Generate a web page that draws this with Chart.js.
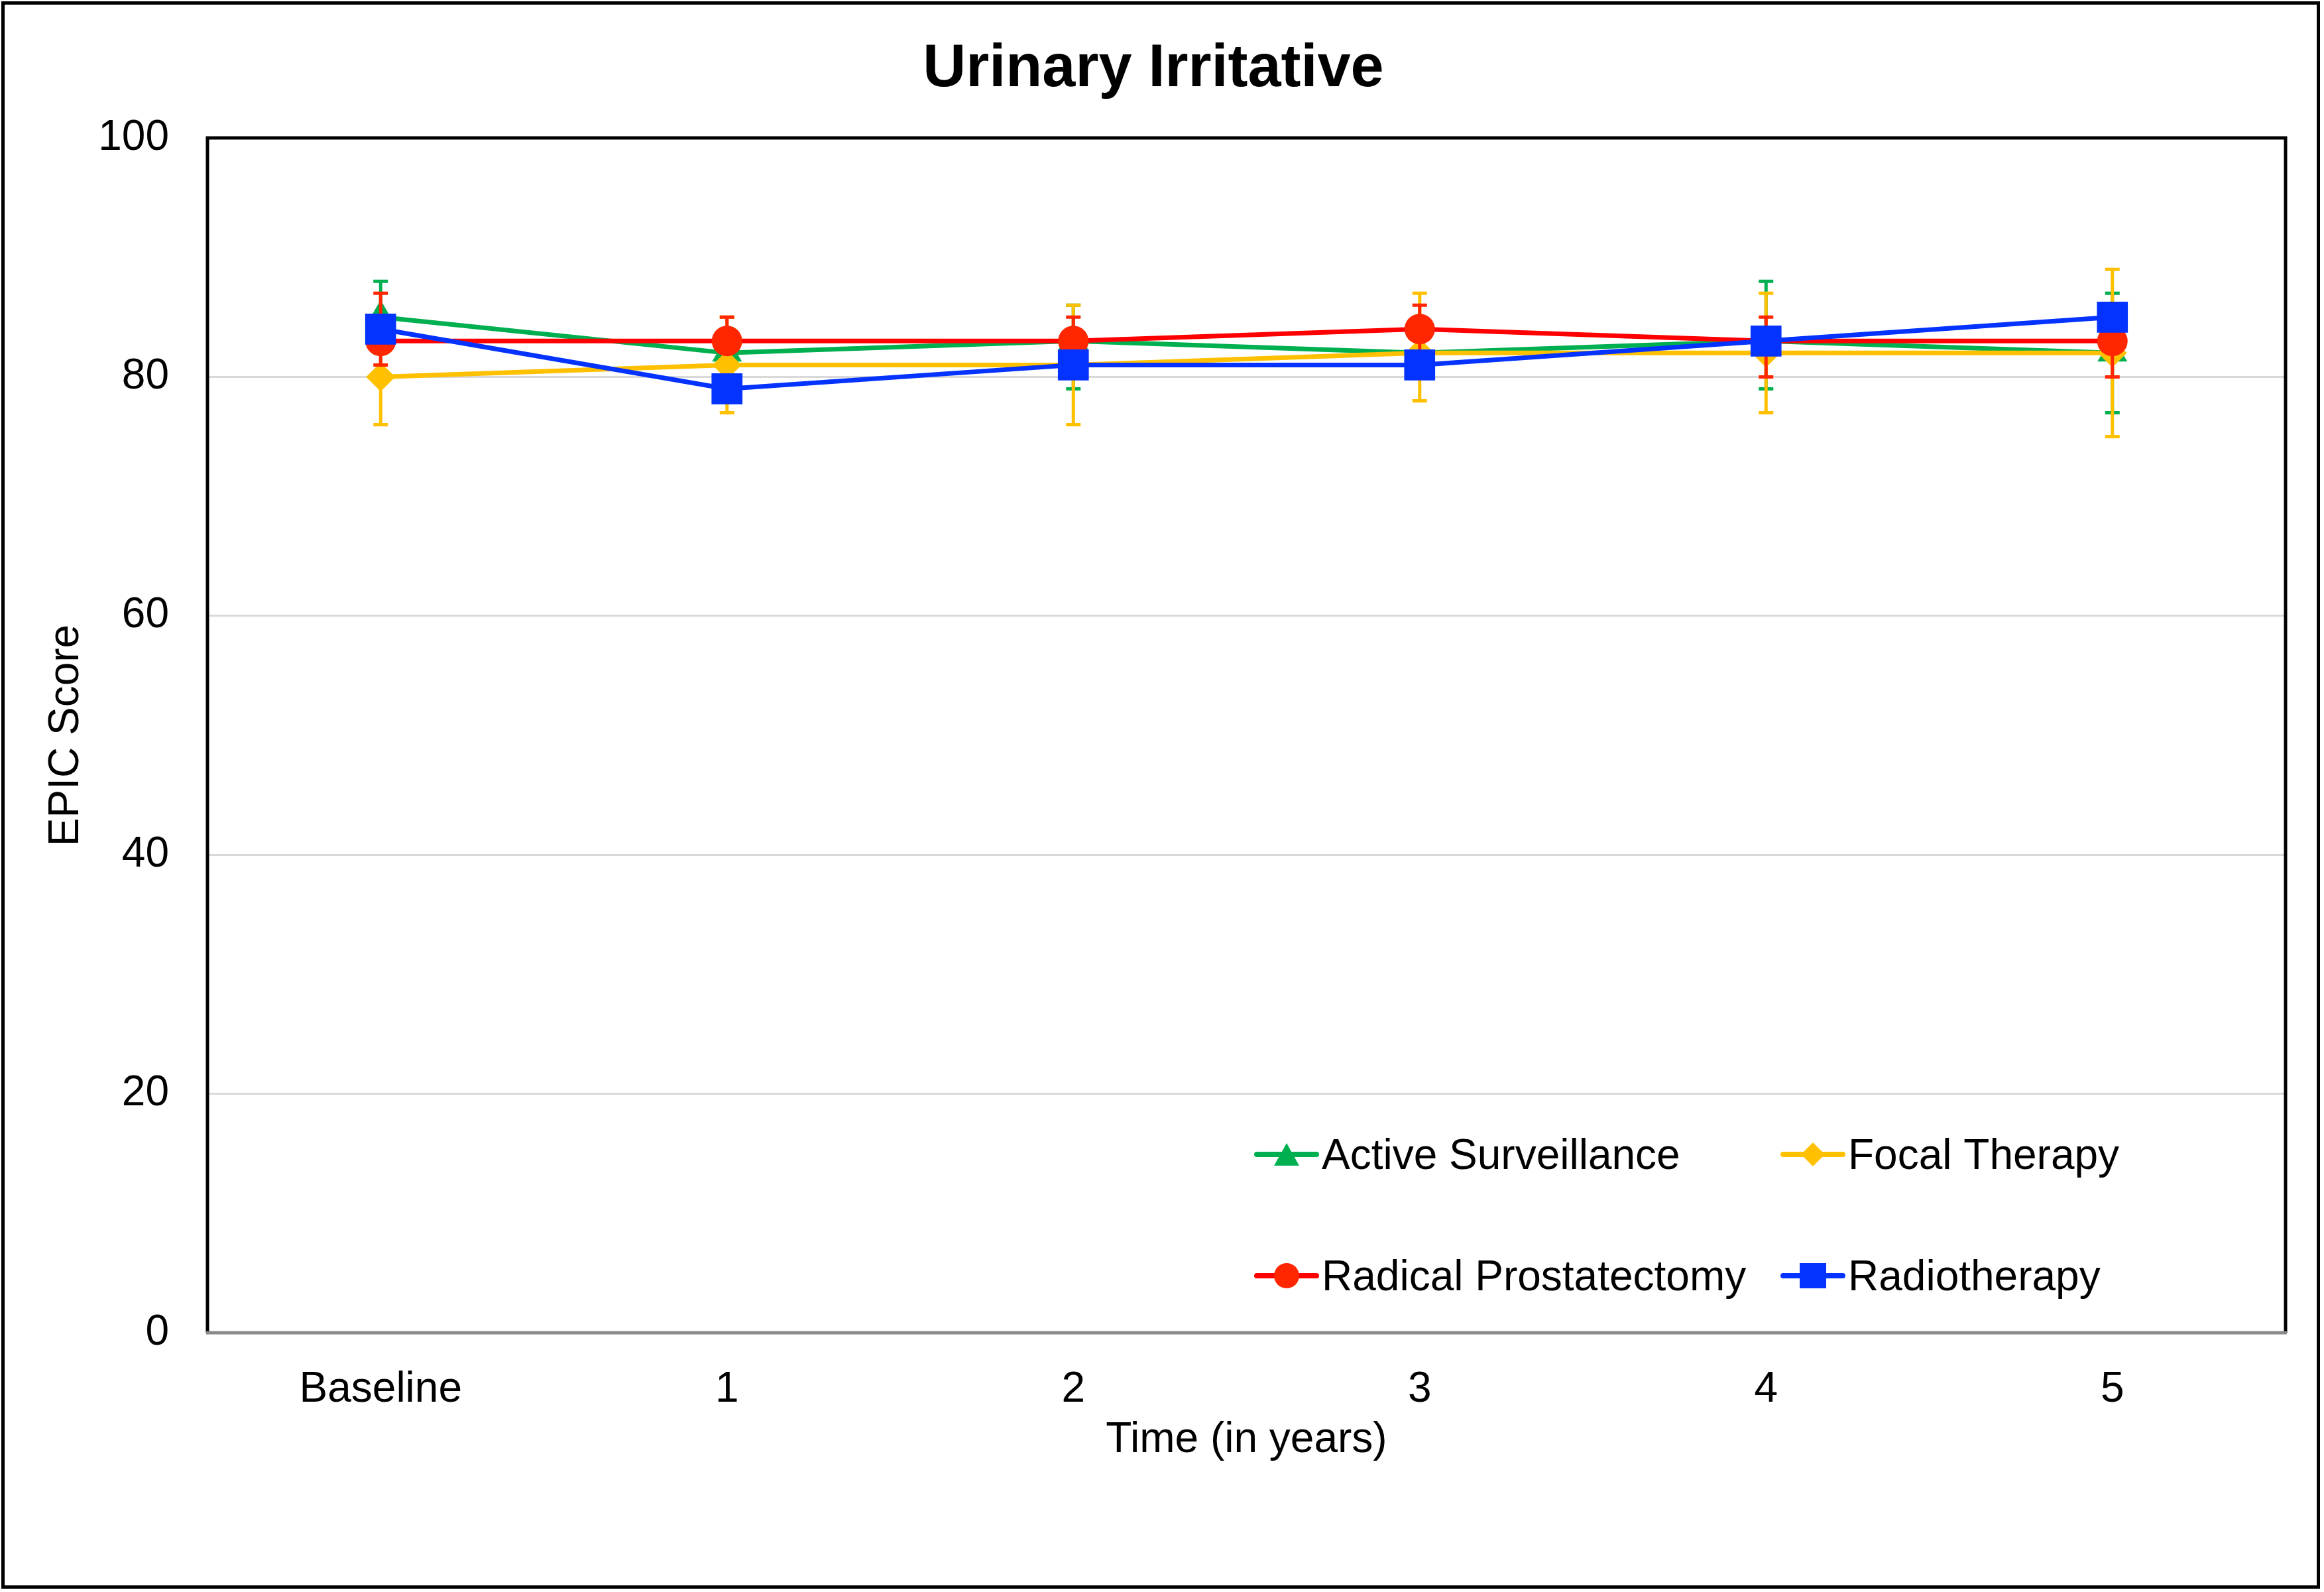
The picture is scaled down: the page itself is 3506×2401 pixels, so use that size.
<!DOCTYPE html>
<html>
<head>
<meta charset="utf-8">
<script src="https://cdn.jsdelivr.net/npm/chart.js@4.4.1/dist/chart.umd.min.js"></script>
<style>
  body { margin: 0; background: #ffffff; }
  canvas { display: block; }
</style>
</head>
<body>
<canvas id="epicChart" width="3506" height="2401" style="width:3506px;height:2401px"></canvas>
<script>
// values
var timeLabels = ['Baseline', '1', '2', '3', '4', '5'];
var yTicks = [0, 20, 40, 60, 80, 100];

var activeSurv = [85, 82, 83, 82, 83, 82];
var activeLow  = [82, 80, 79, 80, 79, 77];
var activeHigh = [88, 84, 86, 84, 88, 87];

var focal     = [80, 81, 81, 82, 82, 82];
var focalLow  = [76, 77, 76, 78, 77, 75];
var focalHigh = [84, 85, 86, 87, 87, 89];

var radical     = [83, 83, 83, 84, 83, 83];
var radicalLow  = [81, 82, 81, 82, 80, 80];
var radicalHigh = [87, 85, 85, 86, 85, 86];

var radio = [84, 79, 81, 81, 83, 85];

var FONT = '"Liberation Sans", Arial, sans-serif';

// error bars, drawn just before each series so later series sit on top
var errorBars = {
    id: 'errorBars',
    beforeDatasetDraw: function(chart, args) {
        var ds = chart.data.datasets[args.index];
        if (!ds.errLow) return;
        var ctx = chart.ctx;
        var xs = chart.scales.x, ys = chart.scales.y;
        ctx.save();
        ctx.strokeStyle = ds.errColor;
        ctx.lineWidth = 5;
        for (var i = 0; i < ds.data.length; i++) {
            var px = xs.getPixelForValue(i);
            var top = ys.getPixelForValue(ds.errHigh[i]);
            var bot = ys.getPixelForValue(ds.errLow[i]);
            ctx.beginPath();
            ctx.moveTo(px, top); ctx.lineTo(px, bot);
            ctx.moveTo(px - 11, top); ctx.lineTo(px + 11, top);
            ctx.moveTo(px - 11, bot); ctx.lineTo(px + 11, bot);
            ctx.stroke();
        }
        ctx.restore();
    }
};

function legendMarker(ctx, style, cx, cy, color) {
    ctx.fillStyle = color;
    ctx.beginPath();
    if (style === 'triangle') {
        ctx.moveTo(cx, cy - 17); ctx.lineTo(cx + 19, cy + 17); ctx.lineTo(cx - 19, cy + 17);
    } else if (style === 'rectRot') {
        ctx.moveTo(cx, cy - 18); ctx.lineTo(cx + 18, cy); ctx.lineTo(cx, cy + 18); ctx.lineTo(cx - 18, cy);
    } else if (style === 'circle') {
        ctx.arc(cx, cy, 19, 0, Math.PI * 2);
    } else {
        ctx.rect(cx - 20, cy - 19, 40, 38);
    }
    ctx.closePath();
    ctx.fill();
}

// plot frame, outer border and the legend inside the plot
var framePlugin = {
    id: 'framePlugin',
    afterDraw: function(chart) {
        var ctx = chart.ctx;
        var a = chart.chartArea;
        ctx.save();
        // outer picture border
        ctx.strokeStyle = '#000000';
        ctx.lineWidth = 5;
        ctx.strokeRect(4.5, 4.5, 3493, 2389);
        // plot box: black top/left/right, grey bottom axis
        ctx.lineWidth = 5;
        ctx.beginPath();
        ctx.moveTo(a.left, a.bottom);
        ctx.lineTo(a.left, a.top);
        ctx.lineTo(a.right, a.top);
        ctx.lineTo(a.right, a.bottom);
        ctx.stroke();
        ctx.strokeStyle = '#8a8a8a';
        ctx.lineWidth = 5;
        ctx.beginPath();
        ctx.moveTo(a.left - 2, a.bottom);
        ctx.lineTo(a.right + 2, a.bottom);
        ctx.stroke();

        // legend, 2 x 2
        var items = [
            { text: 'Active Surveillance', ds: 3, col: 0, row: 0 },
            { text: 'Focal Therapy', ds: 2, col: 1, row: 0 },
            { text: 'Radical Prostatectomy', ds: 1, col: 0, row: 1 },
            { text: 'Radiotherapy', ds: 0, col: 1, row: 1 }
        ];
        var colX = [1893, 2687];
        var rowY = [1741, 1924];
        ctx.font = '64px ' + FONT;
        ctx.textBaseline = 'alphabetic';
        ctx.textAlign = 'left';
        items.forEach(function(it) {
            var ds = chart.data.datasets[it.ds];
            var x0 = colX[it.col], y0 = rowY[it.row];
            ctx.strokeStyle = ds.borderColor;
            ctx.lineWidth = 8;
            ctx.lineCap = 'round';
            ctx.beginPath();
            ctx.moveTo(x0 + 3, y0);
            ctx.lineTo(x0 + 93, y0);
            ctx.stroke();
            legendMarker(ctx, ds.pointStyle, x0 + 48, y0, ds.pointBackgroundColor);
            ctx.fillStyle = '#000000';
            ctx.fillText(it.text, x0 + 101, y0 + 22);
        });
        ctx.restore();
    }
};

document.addEventListener('DOMContentLoaded', function() {
    createLineChart();
});

function createLineChart() {
    var ctx = document.getElementById('epicChart').getContext('2d');
    var myChart = new Chart(ctx, {
        type: 'line',
        data: {
            labels: timeLabels,
            datasets: [{
                label: 'Radiotherapy',
                data: radio,
                order: 1,
                borderColor: '#0433ff',
                borderWidth: 7,
                pointStyle: 'rect',
                pointRadius: 33,
                pointBackgroundColor: '#0433ff',
                pointBorderWidth: 0
            }, {
                label: 'Radical Prostatectomy',
                data: radical,
                errLow: radicalLow,
                errHigh: radicalHigh,
                errColor: '#ff2600',
                order: 2,
                borderColor: '#ff0000',
                borderWidth: 7,
                pointStyle: 'circle',
                pointRadius: 23,
                pointBackgroundColor: '#ff2600',
                pointBorderWidth: 0
            }, {
                label: 'Focal Therapy',
                data: focal,
                errLow: focalLow,
                errHigh: focalHigh,
                errColor: '#ffc000',
                order: 3,
                borderColor: '#ffc000',
                borderWidth: 7,
                pointStyle: 'rectRot',
                pointRadius: 22,
                pointBackgroundColor: '#ffc000',
                pointBorderWidth: 0
            }, {
                label: 'Active Surveillance',
                data: activeSurv,
                errLow: activeLow,
                errHigh: activeHigh,
                errColor: '#00b050',
                order: 4,
                borderColor: '#00b050',
                borderWidth: 7,
                pointStyle: 'triangle',
                pointRadius: 26,
                pointBackgroundColor: '#00b050',
                pointBorderWidth: 0
            }]
        },
        options: {
            responsive: false,
            devicePixelRatio: 1,
            animation: false,
            layout: { padding: { left: 32, right: 58, top: 0, bottom: 0 } },
            plugins: {
                legend: { display: false },
                tooltip: { enabled: false },
                title: {
                    display: true,
                    text: 'Urinary Irritative',
                    color: '#000000',
                    font: { family: FONT, size: 90, weight: 'bold' },
                    padding: { top: 51, bottom: 49 }
                }
            },
            scales: {
                x: {
                    offset: true,
                    grid: { display: false },
                    border: { display: false },
                    ticks: { color: '#000000', font: { family: FONT, size: 64 }, padding: 40, maxRotation: 0 },
                    title: {
                        display: true,
                        text: 'Time (in years)',
                        color: '#000000',
                        font: { family: FONT, size: 64 },
                        padding: { top: 0, bottom: 190 }
                    },
                    afterFit: function(scale) { scale.height = 391; }
                },
                y: {
                    min: 0,
                    max: 100,
                    afterBuildTicks: function(scale) {
                        scale.ticks = yTicks.map(function(v) { return { value: v }; });
                    },
                    grid: {
                        color: function(c) { return c.tick.value === 0 ? 'rgba(0,0,0,0)' : '#d9d9d9'; },
                        lineWidth: 3,
                        drawTicks: false
                    },
                    border: { display: false },
                    ticks: { color: '#000000', font: { family: FONT, size: 64 }, padding: 58 },
                    title: {
                        display: true,
                        text: 'EPIC Score',
                        color: '#000000',
                        font: { family: FONT, size: 64 },
                        padding: { top: 30, bottom: 0 }
                    },
                    afterFit: function(scale) { scale.width = 281; }
                }
            }
        },
        plugins: [errorBars, framePlugin]
    });
}
</script>
</body>
</html>
